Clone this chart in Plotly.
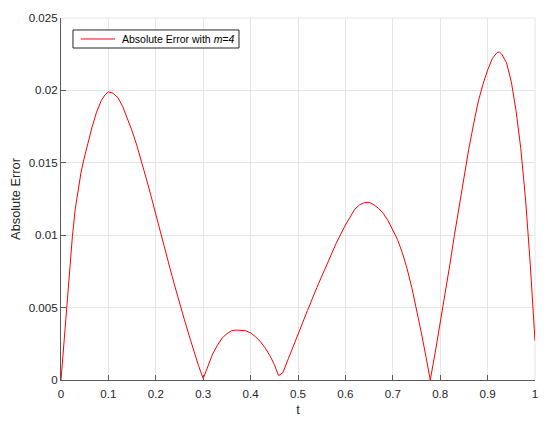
import plotly.graph_objects as go

t = [0, 0.006, 0.012, 0.018, 0.024, 0.03, 0.036, 0.042, 0.048, 0.055, 0.065, 0.075,
     0.085, 0.093, 0.1, 0.11, 0.12, 0.13, 0.14, 0.15, 0.16, 0.17, 0.18, 0.19, 0.20,
     0.21, 0.22, 0.23, 0.24, 0.25, 0.26, 0.27, 0.28, 0.29, 0.30,
     0.31, 0.32, 0.33, 0.34, 0.35, 0.36, 0.37, 0.38, 0.39, 0.40, 0.41, 0.42, 0.43,
     0.44, 0.45, 0.459, 0.468,
     0.48, 0.50, 0.52, 0.54, 0.56, 0.58, 0.60, 0.61, 0.62, 0.63, 0.64, 0.65, 0.66,
     0.67, 0.68, 0.69, 0.70, 0.71, 0.72, 0.73, 0.74, 0.75, 0.76, 0.77, 0.779,
     0.79, 0.80, 0.81, 0.82, 0.83, 0.84, 0.85, 0.86, 0.87, 0.88, 0.89, 0.90, 0.91,
     0.92, 0.925, 0.93, 0.94, 0.95, 0.96, 0.97, 0.98, 0.99, 1.0]
err = [0, 0.0025, 0.005, 0.0075, 0.0099, 0.0118, 0.0132, 0.0143, 0.0152, 0.0162,
       0.0174, 0.0185, 0.0193, 0.0197, 0.0199, 0.0198, 0.0195, 0.0189, 0.0181, 0.0172,
       0.0162, 0.0151, 0.0139, 0.0127, 0.0114, 0.0102, 0.0089, 0.0077, 0.0065, 0.0053,
       0.0042, 0.0031, 0.0020, 0.0010, 0.0001,
       0.0010, 0.0018, 0.0024, 0.0029, 0.0032, 0.0034, 0.00345, 0.00345, 0.0034,
       0.00325, 0.0030, 0.00268, 0.00225, 0.00172, 0.00108, 0.0003, 0.0005,
       0.0015, 0.0032, 0.0048, 0.0064, 0.0079, 0.0094, 0.0107, 0.0113, 0.0118, 0.0121,
       0.01225, 0.01227, 0.0121, 0.01185, 0.0115, 0.0110, 0.0104, 0.0097, 0.0088,
       0.0077, 0.0064, 0.0049, 0.0033, 0.0016, 0.0,
       0.0020, 0.0039, 0.0058, 0.0079, 0.0100, 0.0120, 0.0140, 0.0159, 0.0176, 0.0192,
       0.0204, 0.0214, 0.0222, 0.02262, 0.02265, 0.0225, 0.0219, 0.0206, 0.0186,
       0.0160, 0.0125, 0.0080, 0.0027]

x_ticks = [0, 0.1, 0.2, 0.3, 0.4, 0.5, 0.6, 0.7, 0.8, 0.9, 1]
x_ticktext = ["0", "0.1", "0.2", "0.3", "0.4", "0.5", "0.6", "0.7", "0.8", "0.9", "1"]
y_ticks = [0, 0.005, 0.01, 0.015, 0.02, 0.025]
y_ticktext = ["0", "0.005", "0.01", "0.015", "0.02", "0.025"]
legend_label = "Absolute Error with <i>m=4</i>"

font_family = "Liberation Sans, Arial, Helvetica, sans-serif"
grid_c = "#e5e5e5"
axis_c = "#5a5a5a"
line_c = "#ff0000"

fig = go.Figure()
fig.add_trace(go.Scatter(x=t, y=err, mode="lines",
                         line=dict(color=line_c, width=1),
                         name=legend_label, showlegend=False))

# page body has an 8px margin: size/margins compensate so plot area lands at 61..535 x 18..380
fig.update_layout(
    width=542, height=416,
    margin=dict(l=53, r=15, t=10, b=44),
    paper_bgcolor="white", plot_bgcolor="white",
    font=dict(family=font_family, size=11.6, color="#262626"),
    showlegend=False,
    xaxis=dict(range=[0, 1], tickvals=x_ticks, ticktext=x_ticktext,
               showgrid=True, gridcolor=grid_c, gridwidth=1,
               showline=True, linecolor=axis_c, linewidth=1,
               ticks="inside", ticklen=5, tickcolor=axis_c,
               zeroline=False, ticklabelstandoff=3, automargin=False,
               title=dict(text="t", standoff=6, font=dict(size=12.8))),
    yaxis=dict(range=[0, 0.025], tickvals=y_ticks, ticktext=y_ticktext,
               showgrid=True, gridcolor=grid_c, gridwidth=1,
               showline=True, linecolor=axis_c, linewidth=1,
               ticks="inside", ticklen=5, tickcolor=axis_c,
               zeroline=False, automargin=False,
               title=dict(text="Absolute Error", standoff=10, font=dict(size=12.8))),
)

# light box lines at top and right (grid-coloured)
fig.add_shape(type="line", xref="paper", yref="paper", x0=0, x1=1, y0=1, y1=1,
              line=dict(color=grid_c, width=1), layer="below")
fig.add_shape(type="line", xref="paper", yref="paper", x0=1, x1=1, y0=0, y1=1,
              line=dict(color=grid_c, width=1), layer="below")

# legend box (MATLAB style)
fig.add_shape(type="rect", xref="paper", yref="paper", x0=0.0253, x1=0.3755,
              y0=0.9171, y1=0.9669, line=dict(color="#262626", width=1),
              fillcolor="white", layer="above")
fig.add_shape(type="line", xref="paper", yref="paper", x0=0.0422, x1=0.1139,
              y0=0.942, y1=0.942, line=dict(color=line_c, width=1), layer="above")
fig.add_annotation(xref="paper", yref="paper", x=0.1245, y=0.942,
                   xanchor="left", yanchor="middle", showarrow=False,
                   text=legend_label, font=dict(size=10.5, color="#000000"))

fig.write_html("out.html")
